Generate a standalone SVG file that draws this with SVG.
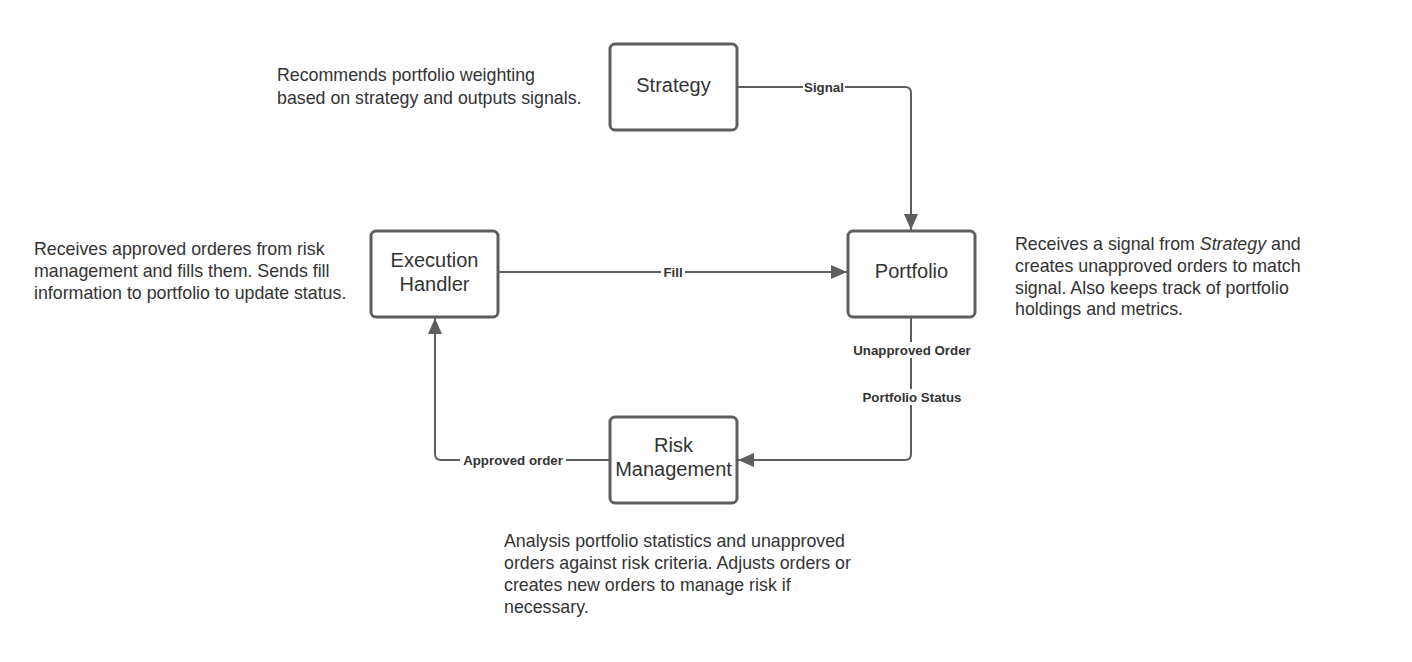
<svg xmlns="http://www.w3.org/2000/svg" width="1412" height="662" viewBox="0 0 1412 662">
<defs>
<style>
.box{fill:#fff;stroke:#5e5e5e;stroke-width:3}
.bt{font-family:"Liberation Sans",Arial,sans-serif;font-size:20px;fill:#333;text-anchor:middle}
.lbl{font-family:"Liberation Sans",Arial,sans-serif;font-size:13.3px;font-weight:bold;fill:#333;text-anchor:middle}
.note{font-family:"Liberation Sans",Arial,sans-serif;font-size:17.8px;fill:#333}
.ln{fill:none;stroke:#5e5e5e;stroke-width:2}
.lb{fill:#fff}
</style>
<marker id="ah" viewBox="0 0 16 14" refX="16" refY="7" markerWidth="16" markerHeight="14" markerUnits="userSpaceOnUse" orient="auto">
<path d="M0,0 L16,7 L0,14 Z" fill="#5e5e5e"/>
</marker>
</defs>
<rect width="1412" height="662" fill="#fff"/>
<g id="connectors">
<path class="ln" d="M737,87 H905 Q911,87 911,93 V230" marker-end="url(#ah)"/>
<path class="ln" d="M498,272 H847" marker-end="url(#ah)"/>
<path class="ln" d="M911,317 V454 Q911,460 905,460 H738" marker-end="url(#ah)"/>
<path class="ln" d="M610,460 H441 Q435,460 435,454 V318" marker-end="url(#ah)"/>
<rect class="lb" x="803" y="79" width="42" height="16"/>
<text class="lbl" x="824" y="91.5">Signal</text>
<rect class="lb" x="661" y="264" width="24" height="16"/>
<text class="lbl" x="673" y="276.5">Fill</text>
<rect class="lb" x="850" y="342" width="124" height="16"/>
<text class="lbl" x="912" y="354.5">Unapproved Order</text>
<rect class="lb" x="859" y="389" width="106" height="16"/>
<text class="lbl" x="912" y="401.5">Portfolio Status</text>
<rect class="lb" x="460" y="452" width="106" height="16"/>
<text class="lbl" x="513" y="464.5">Approved order</text>
</g>
<g id="strategy">
<rect class="box" x="610" y="44" width="127" height="86" rx="5"/>
<text class="bt" x="673.5" y="92">Strategy</text>
</g>
<g id="execution-handler">
<rect class="box" x="371" y="231" width="127" height="86" rx="5"/>
<text class="bt" x="434.5" y="267">Execution</text>
<text class="bt" x="434.5" y="291">Handler</text>
</g>
<g id="portfolio">
<rect class="box" x="848" y="231" width="127" height="86" rx="5"/>
<text class="bt" x="911.5" y="278">Portfolio</text>
</g>
<g id="risk-management">
<rect class="box" x="610" y="417" width="127" height="86" rx="5"/>
<text class="bt" x="673.5" y="452">Risk</text>
<text class="bt" x="673.5" y="476">Management</text>
</g>
<g id="notes">
<text class="note" x="277" y="81">Recommends portfolio weighting</text>
<text class="note" x="277" y="104">based on strategy and outputs signals.</text>
<text class="note" x="34" y="255">Receives approved orderes from risk</text>
<text class="note" x="34" y="277">management and fills them. Sends fill</text>
<text class="note" x="34" y="299">information to portfolio to update status.</text>
<text class="note" x="1015" y="250">Receives a signal from <tspan font-style="italic">Strategy</tspan> and</text>
<text class="note" x="1015" y="272">creates unapproved orders to match</text>
<text class="note" x="1015" y="294">signal. Also keeps track of portfolio</text>
<text class="note" x="1015" y="315">holdings and metrics.</text>
<text class="note" x="504" y="547">Analysis portfolio statistics and unapproved</text>
<text class="note" x="504" y="569">orders against risk criteria. Adjusts orders or</text>
<text class="note" x="504" y="591">creates new orders to manage risk if</text>
<text class="note" x="504" y="613">necessary.</text>
</g>
</svg>
